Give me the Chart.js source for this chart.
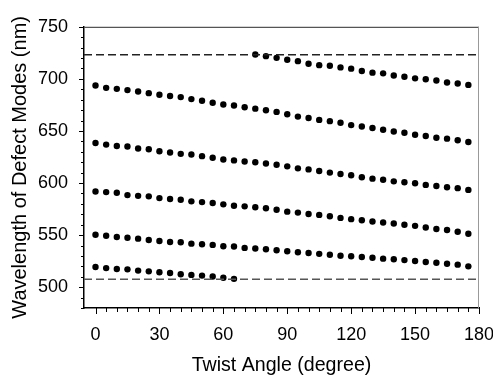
<!DOCTYPE html>
<html>
<head>
<meta charset="utf-8">
<script src="https://cdn.jsdelivr.net/npm/chart.js@4.4.1/dist/chart.umd.min.js"></script>
<style>
  html, body { margin: 0; padding: 0; background: #fff; }
  #wrap { width: 493px; height: 375px; position: relative; }
</style>
</head>
<body>
<div id="wrap"><canvas id="c"></canvas></div>
<script>
// ---- data ----
const anglesFull = [0,5,10,15,20,25,30,35,40,45,50,55,60,65,70,75,80,85,90,95,100,105,110,115,120,125,130,135,140,145,150,155,160,165,170,175];
const anglesHigh = [75,80,85,90,95,100,105,110,115,120,125,130,135,140,145,150,155,160,165,170,175];
const anglesLow  = [0,5,10,15,20,25,30,35,40,45,50,55,60,65];

const modeA = [723.4,721.8,720.2,718.3,717.0,714.5,713.2,712.6,711.0,709.8,707.5,706.0,705.3,703.2,702.1,700.5,699.6,698.4,696.5,695.5,694.2];
const modeB = [693.6,691.4,690.4,689.2,687.9,686.3,684.7,683.5,682.5,680.6,679.0,677.1,675.4,674.4,672.7,671.4,669.9,668.3,666.1,663.8,662.5,660.6,659.4,657.8,655.6,654.3,652.8,651.1,649.5,648.3,646.4,645.2,643.5,642.6,641.0,639.4];
const modeC = [638.5,636.9,635.6,635.0,633.1,632.4,630.5,629.3,628.0,627.4,625.8,624.2,622.6,621.7,620.7,620.0,618.8,617.6,616.0,614.1,613.1,611.5,610.0,608.6,607.4,605.5,604.2,603.1,601.6,600.8,599.8,598.2,597.2,596.0,595.1,593.4];
const modeD = [591.9,591.3,590.6,588.4,587.7,587.2,585.5,584.6,583.9,582.4,581.7,580.8,579.5,578.2,577.6,576.7,575.8,574.4,572.5,571.6,570.3,569.4,568.1,566.5,565.3,564.3,563.0,562.1,561.1,559.9,558.9,557.3,555.8,554.9,553.2,551.3];
const modeE = [550.4,549.4,548.2,547.5,546.6,545.3,544.4,543.4,543.1,541.8,541.2,540.6,539.3,539.0,537.7,537.1,536.4,535.5,534.5,533.6,532.8,532.0,531.1,530.2,529.7,529.0,528.2,527.4,526.8,526.0,525.2,524.2,523.5,522.5,521.6,520.0];
const modeF = [519.3,518.3,517.4,517.1,515.9,515.2,514.3,513.6,512.4,511.8,511.1,510.3,509.0,508.0];

const bandEdges = [723.2, 507.5];           // dashed reference levels
const xTickValues = [0,30,60,90,120,150,180];
const yTickValues = [500,550,600,650,700,750];
const xRange = [-5.4, 180];
const yRange = [480, 750];
const xTitle = 'Twist Angle (degree)';
const yTitle = 'Wavelength of Defect Modes (nm)';

// ---- build datasets ----
const pts = (xs, ys) => xs.map((x, i) => ({x: x, y: ys[i]}));
const dotStyle = {
  showLine: false, pointRadius: 3.2, pointHoverRadius: 3.2,
  pointBackgroundColor: '#000', pointBorderWidth: 0, backgroundColor: '#000', borderColor: '#000'
};
const modeSets = [
  [anglesHigh, modeA], [anglesFull, modeB], [anglesFull, modeC],
  [anglesFull, modeD], [anglesFull, modeE], [anglesLow, modeF]
].map(([xs, ys]) => Object.assign({data: pts(xs, ys)}, dotStyle));

const dashColors = ['#222', '#555'];
const dashSets = bandEdges.map((lvl, i) => ({
  data: [{x: xRange[0], y: lvl}, {x: xRange[1], y: lvl}],
  showLine: true, pointRadius: 0, borderColor: dashColors[i], borderWidth: 1.5,
  borderDash: [8, 4], fill: false
}));

const FONT = "'Liberation Sans', Arial, sans-serif";

const framePlugin = {
  id: 'frame',
  afterDraw(chart) {
    const ctx = chart.ctx, a = chart.chartArea;
    const xs = chart.scales.x, ys = chart.scales.y;
    ctx.save();
    ctx.strokeStyle = '#555'; ctx.lineWidth = 1.2;
    ctx.beginPath(); ctx.moveTo(a.left, a.top + 0.5); ctx.lineTo(a.right, a.top + 0.5); ctx.stroke();
    ctx.strokeStyle = '#999'; ctx.lineWidth = 1;
    ctx.beginPath(); ctx.moveTo(a.right - 0.5, a.top); ctx.lineTo(a.right - 0.5, a.bottom); ctx.stroke();
    ctx.strokeStyle = '#000'; ctx.lineWidth = 1;
    for (let v = 0; v <= xRange[1] + 0.01; v += 5) {
      const p = Math.round(xs.getPixelForValue(v)) + 0.5;
      const len = (v % 30 === 0) ? 6 : 4;
      ctx.beginPath(); ctx.moveTo(p, a.bottom); ctx.lineTo(p, a.bottom + len); ctx.stroke();
    }
    for (let v = yRange[0]; v <= yRange[1] + 0.01; v += 10) {
      const p = Math.round(ys.getPixelForValue(v)) + 0.5;
      const len = (v % 50 === 0) ? 5 : 3;
      ctx.beginPath(); ctx.moveTo(a.left - len, p); ctx.lineTo(a.left, p); ctx.stroke();
    }
    ctx.restore();
  }
};

new Chart(document.getElementById('c'), {
  type: 'scatter',
  data: { datasets: dashSets.concat(modeSets) },
  options: {
    responsive: true, maintainAspectRatio: false, animation: false,
    layout: { padding: { top: 24, right: 0, left: 0, bottom: 0 } },
    plugins: { legend: { display: false }, tooltip: { enabled: false } },
    scales: {
      x: {
        type: 'linear', min: xRange[0], max: xRange[1],
        afterBuildTicks: s => { s.ticks = xTickValues.map(v => ({value: v})); },
        afterFit: s => { s.height = 67; s.paddingRight = 14; },
        grid: { display: false, drawTicks: false },
        border: { display: true, color: '#000', width: 1.5 },
        ticks: { color: '#000', padding: 16, autoSkip: false, maxRotation: 0,
                 font: { family: FONT, size: 18 } },
        title: { display: true, text: xTitle, color: '#000',
                 font: { family: FONT, size: 19.6, lineHeight: 1 }, padding: 0 }
      },
      y: {
        type: 'linear', min: yRange[0], max: yRange[1],
        afterBuildTicks: s => { s.ticks = yTickValues.map(v => ({value: v})); },
        afterFit: s => { s.width = 84; },
        grid: { display: false, drawTicks: false },
        border: { display: true, color: '#000', width: 1.5 },
        ticks: { color: '#000', padding: 16, autoSkip: false,
                 font: { family: FONT, size: 18 } },
        title: { display: true, text: yTitle, color: '#000',
                 font: { family: FONT, size: 20, lineHeight: 1.2 }, padding: { top: 8, bottom: 0 } }
      }
    }
  },
  plugins: [framePlugin]
});
</script>
</body>
</html>
